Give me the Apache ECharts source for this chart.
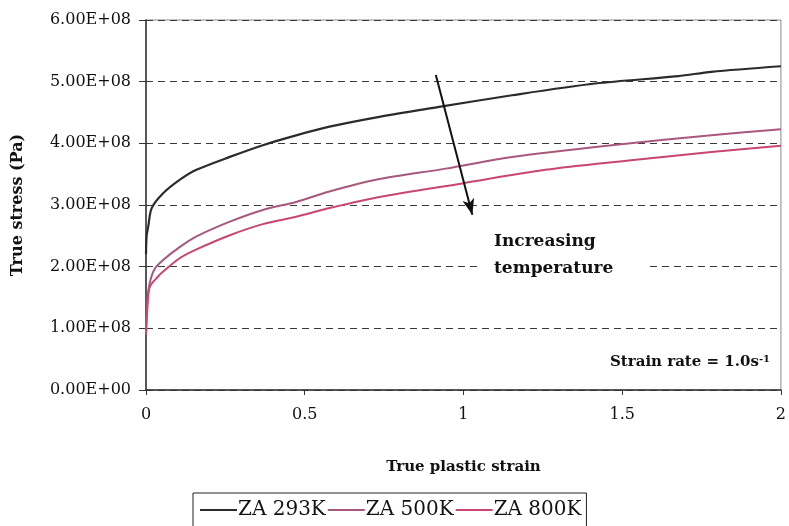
<!DOCTYPE html>
<html>
<head>
<meta charset="utf-8">
<script src="https://cdn.jsdelivr.net/npm/echarts@6/dist/echarts.min.js"></script>
<style>
  html, body { margin: 0; padding: 0; background: #ffffff; }
  #chart { width: 789px; height: 526px; }
</style>
</head>
<body>
<div id="chart"></div>
<script>
// Flow-stress curves (true stress vs. true plastic strain) at strain rate 1.0 /s
var strain293 = [0, 0.002, 0.007, 0.018, 0.054, 0.107, 0.159, 0.264, 0.368, 0.473, 0.578, 0.735, 0.923, 1.153, 1.415, 1.677, 1.781, 2.0];
var stress293 = [2.2e8, 2.5e8, 2.65e8, 2.95e8, 3.19e8, 3.41e8, 3.57e8, 3.78e8, 3.97e8, 4.13e8, 4.27e8, 4.43e8, 4.59e8, 4.78e8, 4.97e8, 5.09e8, 5.16e8, 5.25e8];

var strain500 = [0, 0.004, 0.0125, 0.028, 0.054, 0.107, 0.159, 0.264, 0.368, 0.473, 0.578, 0.735, 0.944, 1.153, 1.467, 1.781, 2.0];
var stress500 = [0.9e8, 1.45e8, 1.75e8, 1.97e8, 2.11e8, 2.32e8, 2.49e8, 2.73e8, 2.92e8, 3.05e8, 3.22e8, 3.42e8, 3.59e8, 3.78e8, 3.97e8, 4.13e8, 4.23e8];

var strain800 = [0, 0.006, 0.0125, 0.038, 0.054, 0.107, 0.159, 0.264, 0.368, 0.473, 0.578, 0.735, 0.996, 1.258, 1.52, 1.781, 2.0];
var stress800 = [0.9e8, 1.45e8, 1.68e8, 1.84e8, 1.92e8, 2.14e8, 2.28e8, 2.51e8, 2.69e8, 2.81e8, 2.95e8, 3.13e8, 3.35e8, 3.57e8, 3.72e8, 3.86e8, 3.96e8];

var seriesNames = ['ZA 293K', 'ZA 500K', 'ZA 800K'];

// Arrow showing the trend with temperature (strain, stress)
var arrowStart = [0.913, 5.11e8];
var arrowEnd = [1.028, 2.84e8];

function pairs(xs, ys) {
  return xs.map(function (x, i) { return [x, ys[i]]; });
}

function sci(v) {
  if (v === 0) return '0.00E+00';
  var e = Math.floor(Math.log10(v));
  var m = v / Math.pow(10, e);
  return m.toFixed(2) + 'E+' + (e < 10 ? '0' + e : e);
}

var serif = 'DejaVu Serif';
var chart = echarts.init(document.getElementById('chart'));

chart.setOption({
  backgroundColor: '#ffffff',
  animation: false,
  grid: {
    left: 146, right: 6, top: 20, bottom: 136,
    show: true, borderColor: '#8a8a8a', borderWidth: 1, backgroundColor: '#ffffff'
  },
  xAxis: {
    type: 'value', min: 0, max: 2, interval: 0.5,
    name: 'True plastic strain', nameLocation: 'middle', nameGap: 70,
    nameTextStyle: { fontFamily: serif, fontWeight: 'bold', fontSize: 15, color: '#111' },
    axisLine: { show: true, onZero: false, lineStyle: { color: '#333', width: 1.5 } },
    axisTick: { show: true, length: 5, lineStyle: { color: '#333' } },
    axisLabel: { fontFamily: serif, fontSize: 16, color: '#111', margin: 17 },
    splitLine: { show: false }
  },
  yAxis: {
    type: 'value', min: 0, max: 6e8, interval: 1e8,
    name: 'True stress (Pa)', nameLocation: 'middle', nameGap: 120, nameRotate: 90,
    nameTextStyle: { fontFamily: serif, fontWeight: 'bold', fontSize: 16, color: '#111' },
    axisLine: { show: true, lineStyle: { color: '#333', width: 1.5 } },
    axisTick: { show: true, length: 7, lineStyle: { color: '#333' } },
    axisLabel: { fontFamily: serif, fontSize: 16, color: '#111', margin: 15, formatter: sci },
    splitLine: { show: true, lineStyle: { color: '#3a3a3a', type: [7, 5], width: 1 } }
  },
  legend: {
    data: seriesNames,
    left: 193, top: 493,
    borderColor: '#222', borderWidth: 1,
    padding: [7, 5, 12, 7],
    itemGap: 2, itemWidth: 37, itemHeight: 2, icon: 'rect',
    textStyle: { fontFamily: serif, fontSize: 20, color: '#111', padding: [0, 0, 0, -4] }
  },
  series: [
    {
      name: seriesNames[0], type: 'line', data: pairs(strain293, stress293),
      showSymbol: false, smooth: 0.3, color: '#2b2b2b', lineStyle: { width: 2.2 },
      markLine: {
        silent: true, symbol: ['none', 'arrow'], symbolSize: [9, 16],
        label: { show: false },
        lineStyle: { color: '#111', width: 2, type: 'solid' },
        data: [[{ coord: arrowStart }, { coord: arrowEnd }]]
      },
      z: 4
    },
    {
      name: seriesNames[1], type: 'line', data: pairs(strain500, stress500),
      showSymbol: false, smooth: 0.3, color: '#a8587c', lineStyle: { width: 2 }, z: 3
    },
    {
      name: seriesNames[2], type: 'line', data: pairs(strain800, stress800),
      showSymbol: false, smooth: 0.3, color: '#c8466f', lineStyle: { width: 2 }, z: 3
    }
  ],
  graphic: [
    {
      type: 'text', left: 478, top: 228, z: 10,
      style: {
        text: 'Increasing\ntemperature',
        font: 'bold 17px "DejaVu Serif"',
        fill: '#111', lineHeight: 27,
        backgroundColor: '#ffffff', padding: [0, 34, 0, 16]
      }
    },
    {
      type: 'text', right: 19, top: 354, z: 10,
      style: {
        text: '{a|Strain rate = 1.0s}{s|-1}',
        rich: {
          a: { font: 'bold 15px "DejaVu Serif"', fill: '#111' },
          s: { font: 'bold 10px "DejaVu Serif"', fill: '#111', verticalAlign: 'top', padding: [0, 0, 7, 0] }
        }
      }
    }
  ]
});
</script>
</body>
</html>
